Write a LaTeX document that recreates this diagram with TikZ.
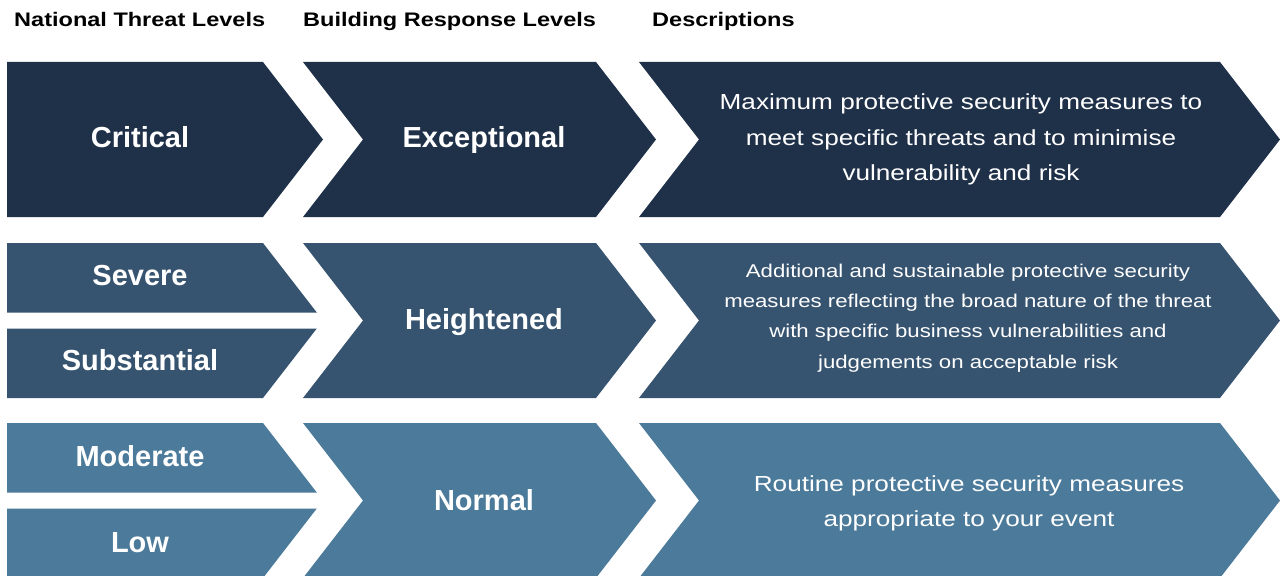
\documentclass[tikz,border=0pt]{standalone}
\usepackage{fontspec}
\setmainfont{Liberation Sans}
\newfontfamily\widefont{Liberation Sans}[FakeStretch=1.2]
\usepackage{tikz}
\usetikzlibrary{positioning}

\definecolor{levelone}{RGB}{31,48,73}
\definecolor{leveltwo}{RGB}{54,83,111}
\definecolor{levelthree}{RGB}{75,122,154}

\begin{document}
\begin{tikzpicture}[
  x=1pt, y=-1pt,
  header/.style={anchor=base west, inner sep=0pt, text=black, font=\widefont\bfseries\fontsize{19.6}{24}\selectfont},
  level/.style={anchor=base, text=white, inner sep=0pt, font=\bfseries\fontsize{29}{34}\selectfont},
  desc/.style={text=white, inner sep=0pt, align=center, font=\widefont\fontsize{21.8}{35.5}\selectfont},
  smalldesc/.style={desc, font=\widefont\fontsize{18.5}{30.3}\selectfont}
]
\useasboundingbox (0,0) rectangle (1281,575);

% Headers
\node[header] (hthreat) at (14,27) {National Threat Levels};
\node[header] (hresponse) at (303,27) {Building Response Levels};
\node[header] (hdesc) at (652,27) {Descriptions};

% Row 1
\fill[levelone] (7,62) -- (263,62) -- (323,139.5) -- (263,217) -- (7,217) -- cycle;
\fill[levelone] (303,62) -- (596,62) -- (656,139.5) -- (596,217) -- (303,217) -- (363,139.5) -- cycle;
\fill[levelone] (639,62) -- (1220,62) -- (1280,139.5) -- (1220,217) -- (639,217) -- (699,139.5) -- cycle;
\node[level] (critical) at (140,147.5) {Critical};
\node[level] (exceptional) at (484,147.5) {Exceptional};
\node[desc] (descone) at (961,139.5) {Maximum protective security measures to\\meet specific threats and to minimise\\vulnerability and risk};

% Row 2
\fill[leveltwo] (7,243) -- (263,243) -- (316.8,312.5) -- (7,312.5) -- cycle;
\fill[leveltwo] (7,328.5) -- (316.8,328.5) -- (263,398) -- (7,398) -- cycle;
\fill[leveltwo] (303,243) -- (596,243) -- (656,320.5) -- (596,398) -- (303,398) -- (363,320.5) -- cycle;
\fill[leveltwo] (639,243) -- (1220,243) -- (1280,320.5) -- (1220,398) -- (639,398) -- (699,320.5) -- cycle;
\node[level] (severe) at (140,285.5) {Severe};
\node[level] (substantial) at (140,370.5) {Substantial};
\node[level] (heightened) at (484,329.5) {Heightened};
\node[smalldesc] (desctwo) at (968,318) {Additional and sustainable protective security\\measures reflecting the broad nature of the threat\\with specific business vulnerabilities and\\judgements on acceptable risk};

% Row 3
\fill[levelthree] (7,423) -- (263,423) -- (316.8,492.5) -- (7,492.5) -- cycle;
\fill[levelthree] (7,508.5) -- (316.8,508.5) -- (263,578) -- (7,578) -- cycle;
\fill[levelthree] (303,423) -- (596,423) -- (656,500.5) -- (596,578) -- (303,578) -- (363,500.5) -- cycle;
\fill[levelthree] (639,423) -- (1220,423) -- (1280,500.5) -- (1220,578) -- (639,578) -- (699,500.5) -- cycle;
\node[level] (moderate) at (140,466.5) {Moderate};
\node[level] (low) at (140,552.5) {Low};
\node[level] (normal) at (484,510.5) {Normal};
\node[desc] (descthree) at (969,503.5) {Routine protective security measures\\appropriate to your event};

\end{tikzpicture}
\end{document}
